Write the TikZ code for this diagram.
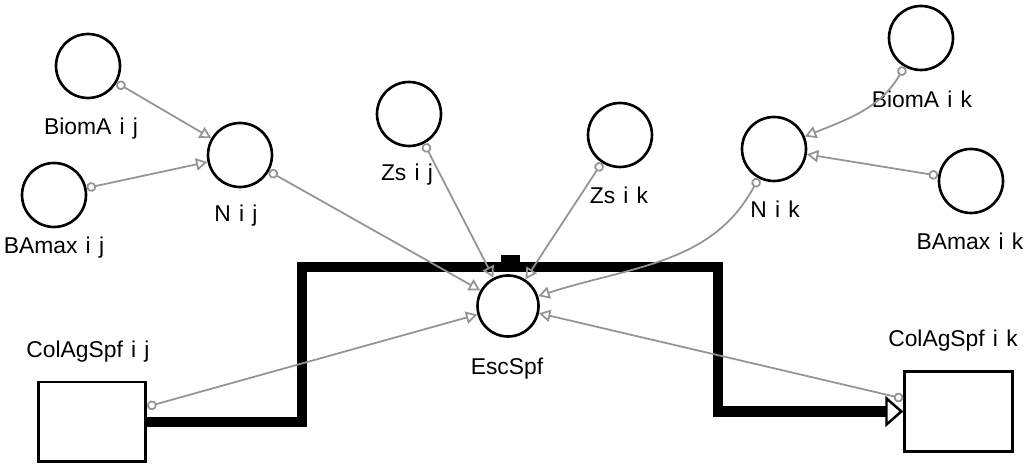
\documentclass[tikz,border=0pt]{standalone}
\usepackage{fontspec}
\setmainfont{Liberation Sans}
\usetikzlibrary{
	arrows.meta,
	positioning
}

\begin{document}
\begin{tikzpicture}[
			x=0.02cm, y=-0.02cm,
			font=\fontsize{13}{15}\selectfont,
			conversor/.style={draw, circle, line width=1.5pt, minimum size=1.28cm, inner sep=0pt},
			estoque/.style={draw, rectangle, line width=1.7pt, minimum width=2.15cm, minimum height=1.6cm, inner sep=0pt},
			valvula/.style={fill=black, minimum width=0.38cm, minimum height=0.2cm, inner sep=0pt},
			conector/.style={{Circle[open,length=5.5pt]}-{Triangle[open,length=6.5pt,width=7pt]}, draw=black!42, line width=1pt},
			fluxo/.style={-{Triangle[open,length=0.36cm,width=0.62cm,line width=1.4pt]}, line width=5.8pt, line join=miter},
			rot/.style={anchor=base, inner sep=0pt, font={\fontsize{13}{15}\selectfont\spaceskip=.36em\relax}}
		]

		\useasboundingbox (0,0) rectangle (1029,475);

		% conversores
		\node[conversor] (biomAij) at (88,66) {};
		\node[conversor] (bamaxij) at (54,195) {};
		\node[conversor] (nij) at (240,155) {};
		\node[conversor] (zsij) at (409,114) {};
		\node[conversor] (zsik) at (620,135) {};
		\node[conversor] (nik) at (774,149) {};
		\node[conversor] (biomAik) at (921,38) {};
		\node[conversor] (bamaxik) at (971,181) {};
		\node[conversor, minimum size=1.22cm] (escspf) at (508,306) {};

		% estoques
		\node[estoque] (colij) at (92,422) {};
		\node[estoque] (colik) at (958.5,411.5) {};

		% rotulos
		\node[rot] (rBiomAij) at (91,135) {BiomA i j};
		\node[rot] (rBAmaxij) at (54,254) {BAmax i j};
		\node[rot] (rNij) at (236,222) {N i j};
		\node[rot] (rZsij) at (407,181) {Zs i j};
		\node[rot] (rZsik) at (619,204) {Zs i k};
		\node[rot] (rBiomAik) at (922,108) {BiomA i k};
		\node[rot] (rNik) at (775,218) {N i k};
		\node[rot] (rBAmaxik) at (970,250) {BAmax i k};
		\node[rot] (rEscSpf) at (507,375) {EscSpf};
		\node[rot] (rColij) at (88,358) {ColAgSpf i j};
		\node[rot] (rColik) at (953,347) {ColAgSpf i k};

		% fluxo
		\coordinate (c1) at (302,267);
		\coordinate (c2) at (718,267);
		\draw[fluxo] (colij.east) -| (c1) -- (c2) |- (colik.west);
		\node[valvula] (valv) at (510,260) {};

		% conectores
		\draw[conector] (biomAij) -- (nij);
		\draw[conector] (bamaxij) -- (nij);
		\draw[conector] (nij) -- (escspf);
		\draw[conector] (zsij) -- (escspf);
		\draw[conector] (zsik) -- (escspf);
		\draw[conector] (colij) -- (escspf);
		\draw[conector] (colik) -- (escspf);
		\draw[conector] (nik) to[out=-118, in=18] (escspf);
		\draw[conector] (biomAik) to[out=-120, in=22] (nik);
		\draw[conector] (bamaxik) -- (nik);
	\end{tikzpicture}
\end{document}
